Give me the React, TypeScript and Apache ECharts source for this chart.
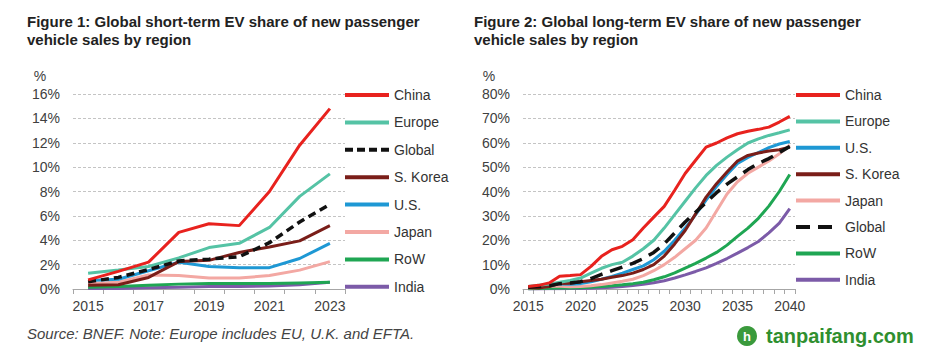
import React, { useEffect, useRef } from "react";
import * as echarts from "echarts";

const yearsShort = ["2015", "2016", "2017", "2018", "2019", "2020", "2021", "2022", "2023"];
const chinaShort = [0.75, 1.45, 2.2, 4.65, 5.35, 5.2, 8.0, 11.8, 14.8];
const europeShort = [1.3, 1.55, 1.85, 2.55, 3.4, 3.75, 5.05, 7.6, 9.45];
const globalShort = [0.6, 0.95, 1.6, 2.3, 2.45, 2.65, 3.8, 5.5, 6.95];
const koreaShort = [0.3, 0.35, 0.95, 2.25, 2.35, 3.0, 3.45, 3.95, 5.2];
const usShort = [0.7, 0.8, 1.5, 2.2, 1.85, 1.75, 1.75, 2.5, 3.75];
const japanShort = [0.45, 0.55, 1.15, 1.1, 0.9, 0.9, 1.1, 1.55, 2.25];
const rowShort = [0.15, 0.2, 0.3, 0.4, 0.45, 0.45, 0.45, 0.5, 0.55];
const indiaShort = [0.05, 0.05, 0.1, 0.15, 0.2, 0.2, 0.25, 0.35, 0.55];

const yearsLong = [
  "2015", "2016", "2017", "2018", "2019", "2020", "2021", "2022", "2023", "2024", "2025", "2026", "2027",
  "2028", "2029", "2030", "2031", "2032", "2033", "2034", "2035", "2036", "2037", "2038", "2039", "2040",
];
const chinaLong = [1, 1.5, 2.5, 5.2, 5.5, 5.9, 9.3, 13.4, 16.1, 17.5, 20.2, 25, 29.5, 33.9, 40.5, 47.4, 52.8, 58.2, 59.9, 62, 63.7, 64.7, 65.5, 66.4, 68.5, 70.8];
const europeLong = [1, 1.5, 2, 2.8, 3.5, 4.5, 6.5, 8.5, 10, 11, 13.5, 16.5, 20, 25, 30.5, 36, 41.5, 46.6, 50.7, 54.1, 57.1, 59.9, 61.6, 63, 64.1, 65.3];
const globalLong = [0.7, 1, 1.3, 2.2, 2.5, 3, 4.3, 6, 7.5, 9, 10.5, 12.5, 15, 18.5, 23, 27.5, 31.5, 35.5, 39.5, 43, 46, 49, 51.5, 53.5, 56, 58.5];
const usLong = [0.7, 0.9, 1.3, 2.1, 1.9, 2.2, 3, 4, 5.2, 6.5, 8, 9.5, 12, 15.5, 20, 25, 30.5, 36.5, 42, 47, 51.5, 54, 56, 58, 59.5, 60.5];
const koreaLong = [0.5, 0.4, 1, 2.3, 2.4, 3, 3.5, 4, 4.8, 5.5, 6.5, 8, 10, 13.5, 18.5, 24, 30.8, 37.7, 43.2, 48, 52.5, 54.8, 55.8, 56.6, 57.1, 58.2];
const japanLong = [0.4, 0.6, 1.1, 1.1, 0.9, 1, 1.3, 1.8, 2.5, 3.2, 4, 5.5, 7.5, 10, 13, 16.5, 20, 25, 32, 39, 44, 47.5, 50, 52.5, 55.5, 59];
const rowLong = [0.15, 0.2, 0.3, 0.4, 0.45, 0.5, 0.7, 1, 1.3, 1.7, 2.2, 2.8, 3.8, 5, 6.6, 8.6, 10.5, 12.7, 15, 18, 21.6, 25, 29, 34, 40, 47];
const indiaLong = [0.05, 0.05, 0.1, 0.15, 0.2, 0.25, 0.35, 0.5, 0.7, 1, 1.4, 1.9, 2.6, 3.4, 4.5, 5.8, 7.2, 8.7, 10.5, 12.5, 14.7, 17, 19.5, 23, 27, 33];

const legendShort = ["China", "Europe", "Global", "S. Korea", "U.S.", "Japan", "RoW", "India"];
const legendLong = ["China", "Europe", "U.S.", "S. Korea", "Japan", "Global", "RoW", "India"];

const colors: Record<string, string> = {
  China: "#E8221E",
  Europe: "#55C3A5",
  Global: "#111111",
  "S. Korea": "#7A1E19",
  "U.S.": "#1E98D4",
  Japan: "#F3A8A3",
  RoW: "#1FA653",
  India: "#7C5BA8",
};

const FONT = "Arial, 'Liberation Sans', Helvetica, sans-serif";

export default function App() {
  const ref = useRef<HTMLDivElement>(null);
  useEffect(() => {
    document.body.style.margin = "0";
    const chart = echarts.init(ref.current!, null, { renderer: "svg" });

    const shortData: Record<string, number[]> = {
      China: chinaShort, Europe: europeShort, Global: globalShort, "S. Korea": koreaShort,
      "U.S.": usShort, Japan: japanShort, RoW: rowShort, India: indiaShort,
    };
    const longData: Record<string, number[]> = {
      China: chinaLong, Europe: europeLong, Global: globalLong, "S. Korea": koreaLong,
      "U.S.": usLong, Japan: japanLong, RoW: rowLong, India: indiaLong,
    };
    const drawOrder = ["India", "RoW", "Japan", "U.S.", "S. Korea", "Europe", "Global", "China"];

    const mk = (name: string, data: number[], idx: number, dash: number[]) => ({
      type: "line",
      name,
      xAxisIndex: idx,
      yAxisIndex: idx,
      data,
      symbol: "circle",
      showSymbol: false,
      lineStyle: {
        color: colors[name],
        width: name === "Global" ? 3.5 : 3,
        type: name === "Global" ? dash : "solid",
      },
      itemStyle: { color: colors[name] },
      emphasis: { disabled: true },
    });

    const series: any[] = [];
    drawOrder.forEach((n) => series.push(mk(n, shortData[n], 0, [8, 5])));
    drawOrder.forEach((n) => series.push(mk(n, longData[n], 1, [13, 8])));

    const axisLabel = { fontSize: 14, color: "#404040", fontFamily: FONT };
    const mkX = (data: string[], gridIndex: number, interval: number) => ({
      type: "category",
      gridIndex,
      data,
      boundaryGap: true,
      axisLine: { lineStyle: { color: "#a6a6a6", width: 1 } },
      axisTick: { show: true, interval: 0, length: 5, lineStyle: { color: "#a6a6a6" } },
      axisLabel: { ...axisLabel, interval, margin: 10 },
    });
    const mkY = (gridIndex: number, max: number, interval: number) => ({
      type: "value",
      gridIndex,
      min: 0,
      max,
      interval,
      axisLine: { show: false },
      axisTick: { show: false },
      axisLabel: { ...axisLabel, margin: 13, formatter: "{value}%" },
      splitLine: { lineStyle: { color: "#c4c4c4", type: [3, 2], width: 1 } },
    });

    const mkLegend = (names: string[], left: number, gap: number, dash: number[]) => ({
      orient: "vertical",
      left,
      top: 88,
      padding: 0,
      itemWidth: 44,
      itemHeight: 14,
      itemGap: gap,
      icon: "inherit",
      selectedMode: false,
      itemStyle: { opacity: 0 },
      lineStyle: { width: 4 },
      textStyle: { fontSize: 14, color: "#333333", fontFamily: FONT },
      data: names.map((n) =>
        n === "Global" ? { name: n, lineStyle: { width: 4, type: dash } } : { name: n }
      ),
    });

    chart.setOption({
      animation: false,
      grid: [
        { left: 73, right: 933 - 345, top: 94, bottom: 356 - 289 },
        { left: 523, right: 933 - 795, top: 94, bottom: 356 - 289 },
      ],
      xAxis: [mkX(yearsShort, 0, 1), mkX(yearsLong, 1, 4)],
      yAxis: [mkY(0, 16, 2), mkY(1, 80, 10)],
      legend: [mkLegend(legendShort, 343, 13.4, [8, 4]), mkLegend(legendLong, 794, 12.4, [14, 8])],
      series,
      graphic: [
        {
          type: "text", left: 27, top: 12,
          style: {
            text: "Figure 1: Global short-term EV share of new passenger\nvehicle sales by region",
            font: `bold 15px ${FONT}`, fill: "#222222", lineHeight: 18,
          },
        },
        {
          type: "text", left: 474, top: 12,
          style: {
            text: "Figure 2: Global long-term EV share of new passenger\nvehicle sales by region",
            font: `bold 15px ${FONT}`, fill: "#222222", lineHeight: 18,
          },
        },
        {
          type: "text", x: 40, y: 76,
          style: { text: "%", font: `14px ${FONT}`, fill: "#404040", align: "center", verticalAlign: "middle" },
        },
        {
          type: "text", x: 489, y: 76,
          style: { text: "%", font: `14px ${FONT}`, fill: "#404040", align: "center", verticalAlign: "middle" },
        },
        {
          type: "text", x: 27, y: 333,
          style: {
            text: "Source: BNEF. Note: Europe includes EU, U.K. and EFTA.",
            font: `italic 15px ${FONT}`, fill: "#444444", verticalAlign: "middle",
          },
        },
        { type: "circle", shape: { cx: 747, cy: 336, r: 10 }, style: { fill: "#3a9a3c" } },
        {
          type: "text", x: 747, y: 336,
          style: { text: "h", font: `bold 13px ${FONT}`, fill: "#ffffff", align: "center", verticalAlign: "middle" },
        },
        {
          type: "text", x: 766, y: 336,
          style: { text: "tanpaifang.com", font: `bold 20px ${FONT}`, fill: "#2f8f2f", verticalAlign: "middle" },
        },
      ],
    });
    return () => chart.dispose();
  }, []);
  return <div ref={ref} style={{ width: 933, height: 356 }} />;
}
